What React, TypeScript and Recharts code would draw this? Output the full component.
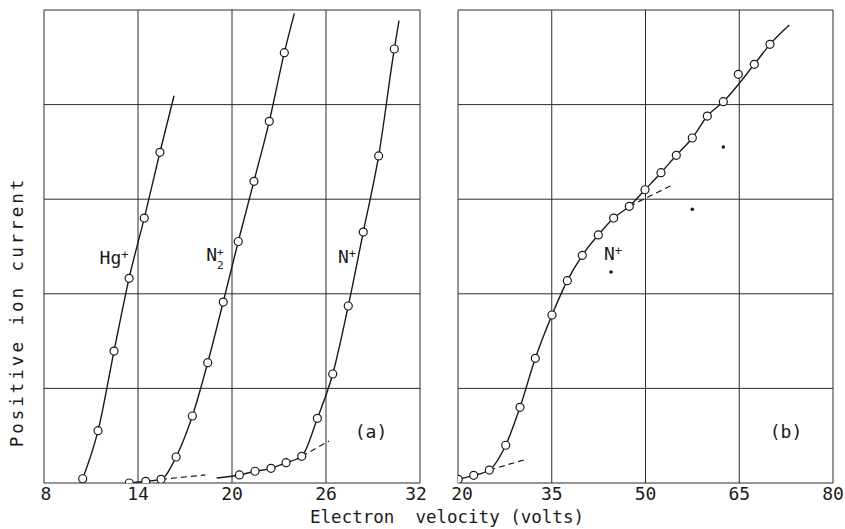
import React from 'react';
import {
  ComposedChart, Line, Scatter, XAxis, YAxis, CartesianGrid,
} from 'recharts';

// panel (a): Hg+, N2+ and N+ near their onsets
const hgVolts = [10.47, 11.45, 12.47, 13.43, 14.4, 15.4];
const hgCurrent = [0.045, 0.553, 1.395, 2.164, 2.8, 3.496];
const hgLineEnd = [16.3, 4.094];

const n2Volts = [13.44, 14.49, 15.47, 16.43, 17.47, 18.45, 19.44, 20.4, 21.4, 22.38, 23.34];
const n2Current = [0, 0.018, 0.039, 0.275, 0.708, 1.272, 1.913, 2.553, 3.189, 3.823, 4.549];
const n2LineEnd = [23.98, 4.965];
const n2Dash = [[15.47, 0.039], [18.3, 0.085]];

const naVolts = [20.47, 21.47, 22.49, 23.45, 24.45, 25.45, 26.43, 27.42, 28.38, 29.36, 30.36];
const naCurrent = [0.085, 0.124, 0.155, 0.215, 0.282, 0.684, 1.152, 1.871, 2.653, 3.457, 4.588];
const naLineStart = [19.02, 0.053];
const naLineEnd = [30.66, 4.887];
const naDash = [[24.45, 0.282], [26.19, 0.444]];

const ticksA = [8, 14, 20, 26, 32];

// panel (b): N+ over a wider range
const nbVolts = [20.05, 22.51, 25.01, 27.63, 29.92, 32.37, 35.04, 37.49, 39.89, 42.45, 44.91,
  47.41, 49.92, 52.48, 54.93, 57.49, 59.89, 62.45, 64.85, 67.41, 69.92];
const nbCurrent = [0.039, 0.081, 0.137, 0.399, 0.8, 1.318, 1.776, 2.139, 2.407, 2.622, 2.801,
  2.925, 3.1, 3.28, 3.464, 3.647, 3.879, 4.031, 4.32, 4.426, 4.637];
// the drawn curve
const nbCurveVolts = [20.05, 22.51, 25.01, 27.63, 29.92, 32.37, 35.04, 37.49, 39.89, 42.45, 44.91,
  47.41, 49.92, 52.48, 54.93, 57.49, 59.89, 62.45, 67.41, 69.92, 73.0];
const nbCurveCurrent = [0.039, 0.081, 0.137, 0.399, 0.8, 1.318, 1.776, 2.139, 2.407, 2.622, 2.801,
  2.925, 3.1, 3.28, 3.464, 3.647, 3.879, 4.031, 4.426, 4.637, 4.841];
const nbDotVolts = [44.48, 57.49, 62.45];
const nbDotCurrent = [2.23, 2.893, 3.552];
const nbDashLow = [[25.01, 0.137], [31.09, 0.254]];
const nbDashHigh = [[47.4, 2.925], [54.6, 3.16]];

const ticksB = [20, 35, 50, 65, 80];
const yTicks = [0, 1, 2, 3, 4, 5];

const FONT = '"DejaVu Sans Mono", "Liberation Mono", monospace';
const INK = '#1a1a1a';

const toPts = (xs: number[], ys: number[]) => xs.map((x, i) => ({ x, y: ys[i] }));
const pairs = (p: number[][]) => p.map(([x, y]) => ({ x, y }));

const Circle = (p: any) => (
  <circle cx={p.cx} cy={p.cy} r={4} fill="#fff" stroke={INK} strokeWidth={1.2} />
);
const Dot = (p: any) => <circle cx={p.cx} cy={p.cy} r={1.8} fill={INK} />;

const solid = (data: { x: number; y: number }[], key: string) => (
  <Line
    key={key}
    data={data}
    dataKey="y"
    type="monotone"
    stroke={INK}
    strokeWidth={1.4}
    dot={false}
    activeDot={false}
    isAnimationActive={false}
  />
);
const dashed = (data: { x: number; y: number }[], key: string) => (
  <Line
    key={key}
    data={data}
    dataKey="y"
    type="linear"
    stroke={INK}
    strokeWidth={1.2}
    strokeDasharray="6 4"
    dot={false}
    activeDot={false}
    isAnimationActive={false}
  />
);
const circles = (data: { x: number; y: number }[], key: string) => (
  <Scatter key={key} data={data} dataKey="y" shape={Circle} isAnimationActive={false} />
);

function Panel({ ticks, shifts, children, width, margin }: any) {
  const renderTick = (p: any) => (
    <text
      x={p.x + (shifts[p.payload.value] ?? 0)}
      y={p.y}
      dy="0.71em"
      textAnchor="middle"
      fontSize={18}
      fontFamily={FONT}
      fill={INK}
    >
      {p.payload.value}
    </text>
  );
  return (
    <ComposedChart width={width} height={529} margin={margin}>
      <CartesianGrid stroke="#2a2a2a" strokeWidth={1} />
      <XAxis
        type="number"
        dataKey="x"
        domain={[ticks[0], ticks[ticks.length - 1]]}
        ticks={ticks}
        allowDataOverflow
        height={30}
        axisLine={false}
        tickLine={false}
        tickSize={0}
        tickMargin={4}
        interval={0}
        tick={renderTick}
      />
      <YAxis type="number" dataKey="y" domain={[0, 5]} ticks={yTicks} hide allowDataOverflow />
      {children}
    </ComposedChart>
  );
}

const lbl = (text: React.ReactNode, left: number, top: number, size = 18) => (
  <div
    style={{
      position: 'absolute', left, top, fontFamily: FONT, fontSize: size, color: INK,
      lineHeight: 1, whiteSpace: 'pre', transform: 'translate(-50%, -50%)',
    }}
  >
    {text}
  </div>
);

const supStyle = { fontSize: 12, verticalAlign: 'top', lineHeight: 1 } as const;

export default function App() {
  const hg = toPts(hgVolts, hgCurrent);
  const n2 = toPts(n2Volts, n2Current);
  const na = toPts(naVolts, naCurrent);
  const nb = toPts(nbVolts, nbCurrent);

  return (
    <div style={{ position: 'absolute', left: 0, top: 0, width: 845, height: 529, background: '#fff' }}>
      <div style={{ position: 'absolute', left: 0, top: 0 }}>
        <Panel ticks={ticksA} shifts={{ 8: 2, 32: -4 }} width={430} margin={{ top: 10, right: 10, bottom: 16, left: 44 }}>
          {solid([...hg, { x: hgLineEnd[0], y: hgLineEnd[1] }], 'hgl')}
          {solid([...n2, { x: n2LineEnd[0], y: n2LineEnd[1] }], 'n2l')}
          {solid([{ x: naLineStart[0], y: naLineStart[1] }, ...na, { x: naLineEnd[0], y: naLineEnd[1] }], 'nal')}
          {dashed(pairs(n2Dash), 'n2d')}
          {dashed(pairs(naDash), 'nad')}
          {circles(hg, 'hgc')}
          {circles(n2, 'n2c')}
          {circles(na, 'nac')}
        </Panel>
      </div>
      <div style={{ position: 'absolute', left: 440, top: 0 }}>
        <Panel ticks={ticksB} shifts={{ 20: 4 }} width={405} margin={{ top: 10, right: 12, bottom: 16, left: 18 }}>
          {solid(toPts(nbCurveVolts, nbCurveCurrent), 'nbl')}
          {dashed(pairs(nbDashLow), 'nbd1')}
          {dashed(pairs(nbDashHigh), 'nbd2')}
          {circles(nb, 'nbc')}
          <Scatter data={toPts(nbDotVolts, nbDotCurrent)} dataKey="y" shape={Dot} isAnimationActive={false} />
        </Panel>
      </div>

      {lbl(<>Hg<span style={supStyle}>+</span></>, 114, 258)}
      {lbl(
        <span style={{ display: 'inline-flex', alignItems: 'flex-start' }}>
          N
          <span style={{ display: 'inline-flex', flexDirection: 'column', fontSize: 11, lineHeight: 1.2 }}>
            <span>+</span>
            <span>2</span>
          </span>
        </span>,
        215, 259,
      )}
      {lbl(<>N<span style={supStyle}>+</span></>, 347, 257)}
      {lbl(<>N<span style={supStyle}>+</span></>, 613, 254)}
      {lbl('(a)', 371, 432)}
      {lbl('(b)', 786, 432)}
      {lbl('Electron  velocity (volts)', 447, 518, 17.5)}
      <div
        style={{
          position: 'absolute', left: 18, top: 312, fontFamily: FONT, fontSize: 17.5, color: INK,
          lineHeight: 1, whiteSpace: 'pre', letterSpacing: 3,
          transform: 'translate(-50%, -50%) rotate(-90deg)',
        }}
      >
        Positive ion current
      </div>
    </div>
  );
}
